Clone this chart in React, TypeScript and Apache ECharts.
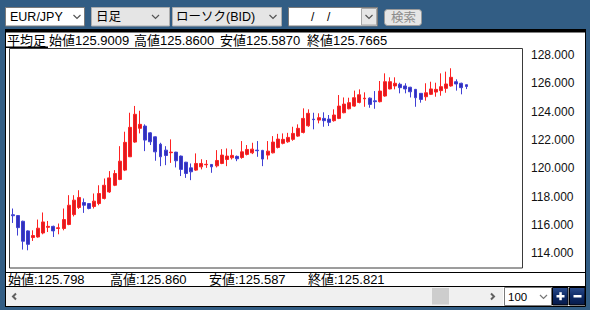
import React, { useEffect, useRef } from "react";
import * as echarts from "echarts";

// ---- data ----
const OPEN = [
  116.72, 116.66, 116.26, 115.58, 115.11, 115.15, 115.43, 115.83, 115.9, 115.75,
  115.75, 116.03, 116.73, 117.23, 117.58, 117.51, 117.3, 117.51, 117.87, 118.33,
  118.8, 119.21, 119.87, 120.81, 121.85, 122.82, 122.98, 122.5, 122.22, 121.7,
  121.28, 121.1, 121.14, 120.86, 120.43, 120.03, 119.87, 120.1, 120.25, 120.27,
  120.17, 120.34, 120.62, 120.74, 120.84, 120.76, 120.98, 121.09, 121.28, 121.26,
  120.93, 121.09, 121.47, 121.76, 121.87, 122.04, 122.27, 122.53, 123.0, 123.47,
  123.4, 123.52, 123.47, 123.36, 123.52, 123.92, 124.2, 124.39, 124.65, 124.9,
  124.95, 124.76, 124.7, 125.1, 125.6, 125.81, 125.93, 125.81, 125.72, 125.57,
  125.29, 125.05, 125.22, 125.38, 125.48, 125.64, 125.81, 126.11, 126.0, 125.9,
];
const CLOSE = [
  116.65, 115.81, 114.85, 114.63, 115.25, 115.77, 116.21, 115.9, 115.58, 115.8,
  116.38, 117.39, 117.75, 117.94, 117.39, 117.16, 117.68, 118.22, 118.8, 119.32,
  119.63, 120.5, 121.83, 122.89, 123.81, 123.1, 121.99, 121.87, 121.16, 120.81,
  120.9, 121.14, 120.53, 119.92, 119.63, 119.75, 120.34, 120.34, 120.28, 120.1,
  120.55, 120.93, 120.86, 120.91, 120.67, 121.16, 121.33, 121.35, 121.24, 120.65,
  121.21, 121.85, 122.06, 122.04, 122.18, 122.46, 122.82, 123.52, 123.88, 123.43,
  123.57, 123.36, 123.24, 123.76, 124.39, 124.53, 124.63, 124.98, 125.19, 124.95,
  124.51, 124.7, 125.45, 126.11, 126.11, 126.0, 125.69, 125.6, 125.4, 124.98,
  124.86, 125.33, 125.6, 125.57, 125.76, 125.95, 126.42, 125.95, 125.69, 125.77,
];
const LOW = [
  116.14, 115.25, 114.26, 114.21, 114.87, 115.1, 115.34, 115.5, 115.15, 115.34,
  115.62, 115.98, 116.6, 117.13, 116.85, 117.1, 117.16, 117.39, 117.8, 118.26,
  118.74, 119.16, 119.8, 120.8, 121.8, 122.46, 121.21, 121.64, 120.53, 120.15,
  120.22, 120.38, 120.06, 119.45, 119.32, 119.16, 119.82, 119.92, 120.03, 119.68,
  120.06, 120.29, 120.15, 120.62, 120.5, 120.67, 120.91, 121.0, 120.81, 120.15,
  120.62, 121.05, 121.4, 121.69, 121.8, 121.94, 122.22, 122.46, 122.93, 122.75,
  123.17, 122.93, 122.98, 123.29, 123.47, 123.88, 124.16, 124.34, 124.58, 124.34,
  124.27, 124.2, 124.65, 125.05, 125.57, 125.57, 125.29, 125.29, 125.0, 124.34,
  124.63, 124.77, 125.17, 125.05, 125.12, 125.33, 125.76, 125.48, 125.22, 125.59,
];
const HIGH = [
  117.16, 116.7, 116.3, 115.62, 115.62, 116.38, 116.88, 116.28, 115.95, 116.1,
  117.16, 118.1, 118.1, 118.45, 117.87, 117.55, 118.22, 118.8, 119.28, 119.8,
  119.87, 121.56, 122.58, 123.92, 124.4, 124.06, 123.1, 122.55, 122.25, 121.8,
  121.56, 122.04, 121.16, 120.9, 120.45, 120.34, 121.05, 120.64, 120.58, 120.3,
  121.28, 121.35, 121.4, 121.33, 120.9, 121.92, 121.64, 121.8, 121.92, 121.3,
  121.92, 122.27, 122.43, 122.46, 122.5, 122.93, 123.1, 124.23, 124.16, 123.92,
  123.88, 123.95, 123.76, 124.16, 125.17, 125.0, 124.98, 125.48, 125.57, 125.36,
  125.0, 125.45, 126.16, 126.7, 126.42, 126.42, 126.04, 126.0, 125.75, 125.6,
  125.3, 126.0, 126.11, 126.04, 126.7, 126.82, 127.06, 126.28, 126.04, 125.9,
];
const SLOT_COUNT = 100;
const Y_TICKS = [114, 116, 118, 120, 122, 124, 126, 128];
const Y_MIN = 112.96;
const Y_MAX = 128.49;

const HEADER_LABELS = ["平均足", "始値125.9009", "高値125.8600", "安値125.5870", "終値125.7665"];
const FOOTER_LABELS = ["始値:125.798", "高値:125.860", "安値:125.587", "終値:125.821"];
const TOOLBAR_LABELS = ["EUR/JPY", "日足", "ローソク(BID)", "/", "/", "検索"];
const PAGE_SIZE_LABEL = "100";

const FONT = '"Liberation Sans", "Noto Sans CJK JP", sans-serif';
const BLUE_BG = "#325d84";

function txt(x: number, y: number, text: string, size = 13, fill = "#000", align = "left") {
  return {
    type: "text",
    x,
    y,
    silent: true,
    z: 5,
    style: { text, fill, fontSize: size, fontFamily: FONT, align, verticalAlign: "middle" },
  };
}
function box(x: number, y: number, w: number, h: number, fill: any, stroke?: string, r = 0, z = 1) {
  return {
    type: "rect",
    silent: true,
    z,
    shape: { x, y, width: w, height: h, r },
    style: { fill, stroke: stroke || null, lineWidth: 1 },
  };
}
function chevron(x: number, y: number, color = "#555") {
  return {
    type: "polyline",
    silent: true,
    z: 5,
    shape: { points: [[x, y], [x + 3.5, y + 3.5], [x + 7, y]] },
    style: { stroke: color, lineWidth: 1.2, fill: null },
  };
}
function hline(x1: number, x2: number, y: number, color = "#000", w = 1, z = 3) {
  return {
    type: "line",
    silent: true,
    z,
    shape: { x1, y1: y, x2, y2: y },
    style: { stroke: color, lineWidth: w },
  };
}

export default function App() {
  const ref = useRef<HTMLDivElement>(null);
  useEffect(() => {
    if (!ref.current) return;
    const chart = echarts.init(ref.current, null, { renderer: "svg" });
    const categories = Array.from({ length: SLOT_COUNT }, (_, i) => String(i + 1));
    const candles = OPEN.map((o, i) => [o, CLOSE[i], LOW[i], HIGH[i]]);

    const navyGrad = new echarts.graphic.LinearGradient(0, 0, 0, 1, [
      { offset: 0, color: "#2b4c8c" },
      { offset: 0.5, color: "#0d2a66" },
      { offset: 1, color: "#061a4a" },
    ]);

    const graphics: any[] = [
      box(0, 0, 590, 310, BLUE_BG, undefined, 0, 0),
      box(5.5, 29.5, 580, 277, "#ffffff", "#000", 0, 0),
      box(5, 29, 581, 3.5, "#000", undefined, 0, 1),
      // plot frame
      box(9.5, 48.5, 513, 219.5, "rgba(0,0,0,0)", "#3a3a3a", 0, 3),
      // underline of the first header label
      hline(6, 48, 47.2, "#000", 1.5),
      // footer separators
      hline(5, 585, 272.5, "#000", 1),
      hline(5, 585, 286.5, "#000", 1),
      // header texts
      txt(7, 40.5, HEADER_LABELS[0]),
      txt(49, 40.5, HEADER_LABELS[1]),
      txt(134, 40.5, HEADER_LABELS[2]),
      txt(220, 40.5, HEADER_LABELS[3]),
      txt(307, 40.5, HEADER_LABELS[4]),
      // footer texts
      txt(8, 279.5, FOOTER_LABELS[0]),
      txt(110, 279.5, FOOTER_LABELS[1]),
      txt(209, 279.5, FOOTER_LABELS[2]),
      txt(308, 279.5, FOOTER_LABELS[3]),
      // toolbar
      box(5.5, 7.5, 79, 18.5, "#ffffff", "#7a7a7a"),
      txt(10, 17, TOOLBAR_LABELS[0], 12.5),
      chevron(73.5, 15),
      box(91.5, 7.5, 78, 18.5, "#e5e5e5", "#adadad"),
      txt(96, 17, TOOLBAR_LABELS[1], 12.5),
      chevron(152, 15),
      box(172.5, 7.5, 109, 18.5, "#e5e5e5", "#adadad"),
      txt(176, 17, TOOLBAR_LABELS[2], 12.5),
      chevron(269.5, 15),
      box(288.5, 7.5, 89, 18.5, "#ffffff", "#7a7a7a"),
      txt(311, 17, TOOLBAR_LABELS[3], 12),
      txt(327, 17, TOOLBAR_LABELS[4], 12),
      box(361.5, 8.5, 15, 16.5, "#e6e6e6", "#a8a8a8"),
      chevron(365.5, 15),
      box(384.5, 9.5, 37, 16, "#e6e6e6", "#9a9a9a", 3),
      txt(403.5, 18, TOOLBAR_LABELS[5], 12.5, "#8c8c8c", "center"),
      // scrollbar
      box(6, 287, 497, 19, "#f0f0f0", undefined, 0, 1),
      {
        type: "polyline", silent: true, z: 5,
        shape: { points: [[16, 293.5], [13, 296.5], [16, 299.5]] },
        style: { stroke: "#606060", lineWidth: 2, fill: null },
      },
      {
        type: "polyline", silent: true, z: 5,
        shape: { points: [[491, 293.5], [494, 296.5], [491, 299.5]] },
        style: { stroke: "#606060", lineWidth: 2, fill: null },
      },
      box(432, 288, 17, 16.5, "#cdcdcd", undefined, 0, 2),
      hline(5, 503, 306.5, "#000", 1),
      // page-size dropdown
      box(504.5, 287.5, 47, 18, "#ffffff", "#7a7a7a"),
      txt(508, 297, PAGE_SIZE_LABEL, 11.5),
      chevron(540, 295, "#777"),
      // zoom buttons
      box(552.5, 287.5, 15.5, 17.5, navyGrad, "#000", 0, 2),
      box(569.5, 287.5, 15.5, 17.5, navyGrad, "#000", 0, 2),
      box(556.5, 295, 8, 2.5, "#ffffff", undefined, 0, 4),
      box(559.3, 292.2, 2.5, 8, "#ffffff", undefined, 0, 4),
      box(573.5, 295, 8, 2.5, "#ffffff", undefined, 0, 4),
    ];

    chart.setOption({
      animation: false,
      backgroundColor: "transparent",
      grid: { left: 10, top: 48, width: 510, height: 220, containLabel: false },
      xAxis: {
        type: "category",
        data: categories,
        boundaryGap: true,
        show: false,
      },
      yAxis: {
        type: "value",
        position: "right",
        min: Y_MIN,
        max: Y_MAX,
        axisLine: { show: false },
        axisTick: { show: false },
        splitLine: { show: false },
        axisLabel: {
          customValues: Y_TICKS,
          formatter: (v: number) => v.toFixed(3),
          margin: 11,
          color: "#111",
          fontSize: 12,
          fontFamily: FONT,
          showMinLabel: true,
          showMaxLabel: true,
        },
      },
      graphic: { elements: graphics },
      series: [
        {
          type: "candlestick",
          data: candles,
          barWidth: 3.4,
          z: 4,
          itemStyle: {
            color: "#dc1c22",
            color0: "#3131b8",
            borderColor: "#ff2222",
            borderColor0: "#4040d4",
            borderWidth: 1,
          },
        },
      ],
    });
    return () => chart.dispose();
  }, []);
  return (
    <div
      ref={ref}
      style={{ position: "absolute", left: 0, top: 0, width: 590, height: 310 }}
    />
  );
}
